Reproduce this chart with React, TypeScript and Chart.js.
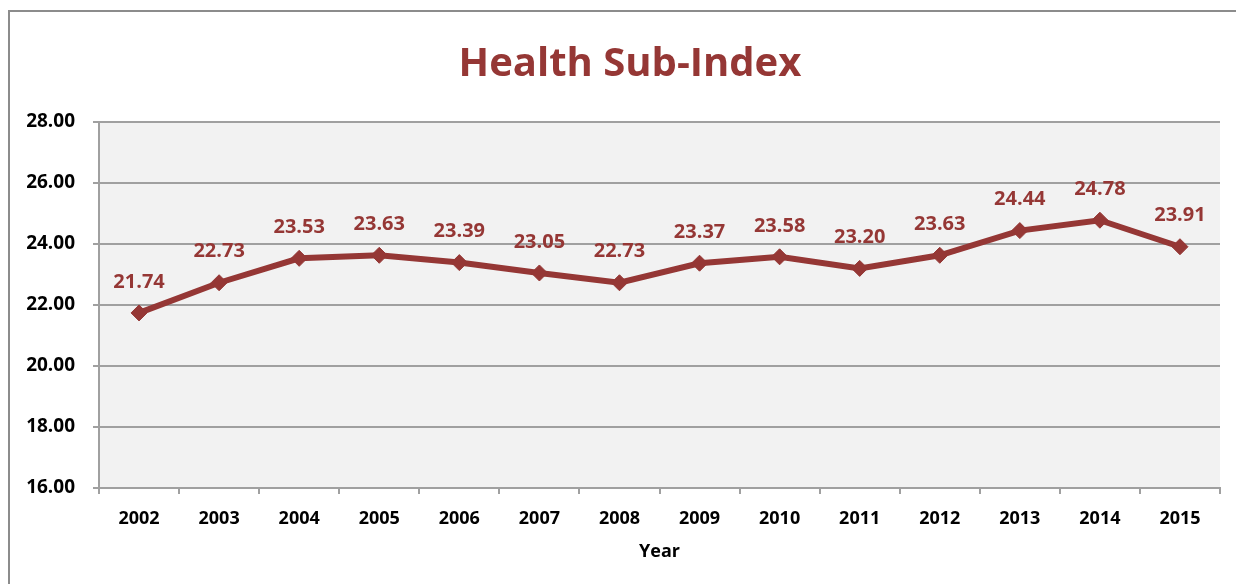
import React, { useEffect, useRef } from "react";
import { Chart, registerables } from "chart.js";

Chart.register(...registerables);

const years = ["2002", "2003", "2004", "2005", "2006", "2007", "2008", "2009", "2010", "2011", "2012", "2013", "2014", "2015"];
const healthValues = [21.74, 22.73, 23.53, 23.63, 23.39, 23.05, 22.73, 23.37, 23.58, 23.2, 23.63, 24.44, 24.78, 23.91];
const yMin = 16;
const yMax = 28;
const yStep = 2;

const RED = "#953735";
const GRID = "#a0a0a0";
const FONT = "'Open Sans', Lato, sans-serif";

const decorPlugin = {
  id: "decor",
  afterLayout(chart: any) {
    // centre the title over the middle of the plot frame, as in the reference
    if (chart.titleBlock) {
      chart.titleBlock.left = 40;
      chart.titleBlock.right = 1220;
    }
  },
  beforeDraw(chart: any) {
    const { ctx, chartArea } = chart;
    ctx.save();
    ctx.fillStyle = "#ffffff";
    ctx.fillRect(0, 0, chart.width, chart.height);
    ctx.fillStyle = "#f2f2f2";
    ctx.fillRect(chartArea.left, chartArea.top, chartArea.right - chartArea.left, chartArea.bottom - chartArea.top);
    ctx.strokeStyle = "#8c8c8c";
    ctx.lineWidth = 2;
    ctx.strokeRect(9, 11, 1400, 800);
    ctx.restore();
  },
  afterDatasetsDraw(chart: any) {
    const { ctx } = chart;
    const meta = chart.getDatasetMeta(0);
    ctx.save();
    ctx.fillStyle = RED;
    ctx.font = `bold 20px ${FONT}`;
    ctx.textAlign = "center";
    ctx.textBaseline = "middle";
    meta.data.forEach((pt: any, i: number) => {
      ctx.fillText(healthValues[i].toFixed(2), pt.x, pt.y - 31);
    });
    ctx.restore();
  },
};

export default function App() {
  const ref = useRef<HTMLCanvasElement>(null);
  useEffect(() => {
    if (!ref.current) return;
    const chart = new Chart(ref.current, {
      type: "line",
      data: {
        labels: years,
        datasets: [
          {
            label: "Health Sub-Index",
            data: healthValues,
            borderColor: RED,
            backgroundColor: RED,
            borderWidth: 6,
            pointStyle: "rectRot",
            pointRadius: 8,
            pointBackgroundColor: RED,
            pointBorderColor: RED,
            pointBorderWidth: 1,
            tension: 0,
          },
        ],
      },
      options: {
        animation: false,
        responsive: false,
        layout: { padding: { top: 0, left: 0, right: 16, bottom: 0 } },
        plugins: {
          legend: { display: false },
          tooltip: { enabled: false },
          title: {
            display: true,
            text: "Health Sub-Index",
            color: RED,
            font: { family: FONT, size: 40, weight: "bold", lineHeight: 1.2 },
            padding: { top: 41, bottom: 33 },
          },
        },
        scales: {
          x: {
            type: "category",
            offset: true,
            afterFit(scale: any) {
              scale.height = 96;
            },
            grid: {
              offset: true,
              drawOnChartArea: false,
              drawTicks: true,
              tickLength: 6,
              color: GRID,
              lineWidth: 2,
            },
            border: { display: true, color: GRID, width: 2 },
            ticks: {
              color: "#000",
              font: { family: FONT, size: 18, weight: "bold" },
              padding: 14,
              maxRotation: 0,
            },
            title: {
              display: true,
              text: "Year",
              color: "#000",
              font: { family: FONT, size: 18, weight: "bold", lineHeight: 1.2 },
              padding: { top: 4, bottom: 21 },
            },
          },
          y: {
            min: yMin,
            max: yMax,
            afterFit(scale: any) {
              scale.width = 99;
            },
            grid: {
              color: GRID,
              lineWidth: 2,
              tickLength: 6,
            },
            border: { display: true, color: GRID, width: 2 },
            ticks: {
              stepSize: yStep,
              color: "#000",
              font: { family: FONT, size: 19, weight: "bold" },
              padding: 18,
              callback: (v: any) => Number(v).toFixed(2),
            },
          },
        },
      },
      plugins: [decorPlugin],
    });
    return () => chart.destroy();
  }, []);
  return (
    <div style={{ position: "absolute", left: 0, top: 0, width: 1236, height: 584 }}>
      <canvas ref={ref} width={1236} height={584} />
    </div>
  );
}
